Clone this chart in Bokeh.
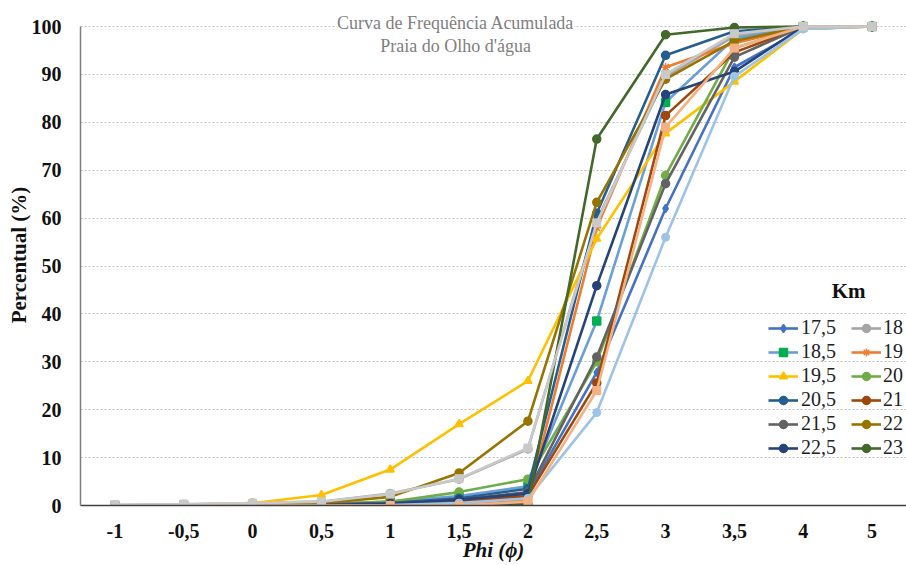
from bokeh.plotting import figure
from bokeh.models import FactorRange, Range1d, Legend, LegendItem, Label, FixedTicker
from bokeh.embed import file_html
from bokeh.resources import INLINE

# ---------------- data ----------------
phi = ["-1", "-0,5", "0", "0,5", "1", "1,5", "2", "2,5", "3", "3,5", "4", "5"]

km_17_5 = [0, 0, 0.1, 0.2, 0.4, 1.0, 2.5, 27.8, 62.0, 91.5, 99.5, 100]
km_18   = [0, 0.2, 0.5, 0.8, 2.5, 5.5, 11.8, 59.5, 89.5, 98.0, 100, 100]
km_18_5 = [0, 0, 0.1, 0.3, 0.8, 2.0, 4.0, 38.5, 84.2, 97.5, 100, 100]
km_19   = [0, 0, 0, 0, 0, 0, 1.2, 58.0, 91.5, 96.5, 100, 100]
km_19_5 = [0, 0.2, 0.5, 2.2, 7.5, 17.0, 26.0, 55.7, 77.7, 88.5, 99.5, 100]
km_20   = [0, 0, 0.1, 0.3, 0.8, 2.8, 5.5, 30.0, 68.9, 95.5, 100, 100]
km_20_5 = [0, 0, 0, 0.2, 0.5, 1.5, 3.5, 61.0, 94.0, 99.0, 100, 100]
km_21   = [0, 0, 0, 0, 0.2, 0.8, 2.0, 25.6, 81.4, 94.6, 100, 100]
km_21_5 = [0, 0, 0, 0.2, 0.5, 1.2, 2.8, 31.0, 67.2, 93.6, 100, 100]
km_22   = [0, 0, 0, 0.5, 1.8, 6.8, 17.6, 63.3, 89.0, 97.0, 100, 100]
km_22_5 = [0, 0, 0, 0.1, 0.4, 1.2, 2.5, 45.9, 85.8, 90.6, 100, 100]
km_23   = [0, 0, 0, 0, 0, 0, 0.3, 76.5, 98.3, 99.8, 100, 100]

# series visible in the chart without a legend entry
extra_light_blue   = [0, 0, 0, 0, 0.1, 0.5, 1.5, 19.4, 56.0, 89.6, 99.5, 100]
extra_light_orange = [0, 0, 0, 0, 0, 0, 0.8, 24.0, 79.0, 95.5, 100, 100]
extra_light_gray   = [0.2, 0.3, 0.5, 0.8, 2.4, 5.6, 12.0, 59.0, 90.0, 98.5, 100, 100]

legend_names = ["17,5", "18", "18,5", "19", "19,5", "20",
                "20,5", "21", "21,5", "22", "22,5", "23"]
legend_values = [km_17_5, km_18, km_18_5, km_19, km_19_5, km_20,
                 km_20_5, km_21, km_21_5, km_22, km_22_5, km_23]
y_ticks = [0, 10, 20, 30, 40, 50, 60, 70, 80, 90, 100]

# ---------------- styles ----------------
line_colors = ["#4472C4", "#A5A5A5", "#6A9FD8", "#ED7D31", "#FFC000", "#70AD47",
               "#255E91", "#9E480E", "#636363", "#997300", "#264478", "#43682B"]
marker_colors = ["#4472C4", "#A5A5A5", "#00B050", "#ED7D31", "#FFC000", "#70AD47",
                 "#255E91", "#9E480E", "#636363", "#997300", "#264478", "#43682B"]
markers = ["diamond", "circle", "square", "asterisk", "triangle", "circle",
           "circle", "circle", "circle", "circle", "circle", "circle"]

SERIF = "Liberation Serif"

p = figure(width=906, height=565,
           x_range=FactorRange(factors=phi), y_range=Range1d(0, 104.6),
           output_backend="svg", toolbar_location=None,
           min_border_left=80, min_border_right=0,
           min_border_top=4, min_border_bottom=60)
p.outline_line_color = None
p.background_fill_color = "white"
p.border_fill_color = "white"

# grid
p.xgrid.grid_line_color = None
p.ygrid.grid_line_color = "#BFBFBF"
p.ygrid.grid_line_dash = "2 2"
p.ygrid.grid_line_width = 1

# axes
p.yaxis.ticker = FixedTicker(ticks=y_ticks)
p.yaxis.bounds = (0, 100)
for ax in (p.xaxis, p.yaxis):
    ax.major_tick_line_color = None
    ax.minor_tick_line_color = None
    ax.major_tick_out = 0
    ax.major_tick_in = 0
    ax.minor_tick_out = 0
    ax.minor_tick_in = 0
    ax.major_label_text_font = SERIF
    ax.major_label_text_font_style = "bold"
    ax.major_label_text_font_size = "20px"
    ax.major_label_text_color = "#111111"
    ax.axis_label_text_font = SERIF
    ax.axis_label_text_font_size = "21px"
    ax.axis_label_text_color = "#111111"
p.xaxis.axis_line_color = "#404040"
p.xaxis.axis_line_width = 1.5
p.yaxis.axis_line_color = "#7F7F7F"
p.yaxis.axis_line_width = 1.5
p.xaxis.major_label_standoff = 18
p.yaxis.major_label_standoff = 19
p.xaxis.axis_label = "Phi (\u03d5)"
p.xaxis.axis_label_text_font_style = "bold italic"
p.xaxis.axis_label_standoff = -3
p.yaxis.axis_label = "Percentual (%)"
p.yaxis.axis_label_text_font_style = "bold"
p.yaxis.axis_label_standoff = -2

items = []
for name, vals, lc, mc, mk in zip(legend_names, legend_values, line_colors, marker_colors, markers):
    r1 = p.line(phi, vals, line_color=lc, line_width=2.6)
    r2 = p.scatter(phi, vals, marker=mk, size=8 if mk != "asterisk" else 9,
                   fill_color=mc, line_color=mc, line_width=1.5)
    items.append(LegendItem(label=name, renderers=[r1, r2]))

extras = [(extra_light_blue, "#9DC3E6", "circle"),
          (extra_light_orange, "#F4B183", "square"),
          (extra_light_gray, "#C9C9C9", "square")]
for vals, c, mk in extras:
    p.line(phi, vals, line_color=c, line_width=2.6)
    p.scatter(phi, vals, marker=mk, size=8, fill_color=c, line_color=c)

def make_legend(its, loc, standoff):
    lg = Legend(items=its, location=loc, orientation="vertical")
    lg.border_line_color = None
    lg.background_fill_alpha = 0
    lg.padding = 0
    lg.margin = 0
    lg.spacing = 1
    lg.glyph_width = 30
    lg.glyph_height = 20
    lg.label_height = 20
    lg.label_standoff = standoff
    lg.label_text_font = SERIF
    lg.label_text_font_size = "20px"
    lg.label_text_color = "#222222"
    return lg

p.add_layout(make_legend(items[0::2], (688, 46), 3))
p.add_layout(make_legend(items[1::2], (771, 46), 2))

p.add_layout(Label(x=11.16, y=44.7, text="Km", text_font=SERIF, text_font_style="bold",
                   text_font_size="21px", text_align="center", text_baseline="middle",
                   text_color="#111111"))

p.add_layout(Label(x=5.45, y=100.8, text="Curva de Frequ\u00eancia Acumulada", text_font=SERIF,
                   text_font_size="18px", text_align="center", text_baseline="middle",
                   text_color="#7F7F7F", background_fill_color="white"))
p.add_layout(Label(x=5.45, y=96.0, text="Praia do Olho d'\u00e1gua", text_font=SERIF,
                   text_font_size="18px", text_align="center", text_baseline="middle",
                   text_color="#7F7F7F"))

open("out.html", "w").write(file_html(p, INLINE))
